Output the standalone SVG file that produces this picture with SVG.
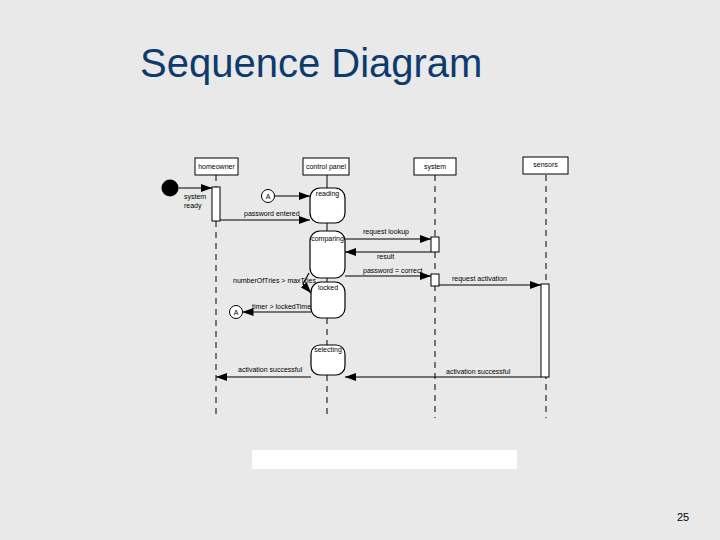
<svg xmlns="http://www.w3.org/2000/svg" width="720" height="540" viewBox="0 0 720 540">
<style>
.t{font-family:"Liberation Sans",Arial,sans-serif;font-size:7px;fill:#000}
.box{fill:#fff;stroke:#000;stroke-width:1}
.st{fill:#fff;stroke:#000;stroke-width:1.2}
.ll{stroke:#000;stroke-width:1;stroke-dasharray:6 5;fill:none}
.sl{stroke:#000;stroke-width:1;fill:none}
.msg{stroke:#000;stroke-width:1.2;fill:none;marker-end:url(#ah)}
</style>
<defs>
<marker id="ah" markerUnits="userSpaceOnUse" markerWidth="11" markerHeight="8" refX="11" refY="4" orient="auto">
<path d="M0,0 L11,4 L0,8 z" fill="#000"/>
</marker>
</defs>
<rect width="720" height="540" fill="#e9e9e9"/>
<text x="140" y="77" font-family="'Liberation Sans',Arial,sans-serif" font-size="40" fill="#0d3b6e">Sequence Diagram</text>
<rect x="252" y="450" width="265" height="19" fill="#fff"/>
<text x="677" y="521" font-family="'Liberation Sans',Arial,sans-serif" font-size="11" fill="#000">25</text>

<g id="lifelines">
<line class="ll" x1="216" y1="175" x2="216" y2="187"/>
<line class="ll" x1="216" y1="221" x2="216" y2="418"/>
<line class="sl" x1="327" y1="175" x2="327" y2="188"/>
<line class="sl" x1="327" y1="223" x2="327" y2="231"/>
<line class="sl" x1="327" y1="278" x2="327" y2="282"/>
<line class="ll" x1="327" y1="318" x2="327" y2="345"/>
<line class="ll" x1="327" y1="375" x2="327" y2="418"/>
<line class="ll" x1="435" y1="175" x2="435" y2="418"/>
<line class="ll" x1="546" y1="175" x2="546" y2="418"/>
</g>

<g id="homeowner">
<rect class="box" x="195" y="158" width="43" height="17"/>
<text class="t" x="216.5" y="169" text-anchor="middle">homeowner</text>
<rect class="box" x="212" y="187" width="8" height="34"/>
</g>
<g id="control-panel">
<rect class="box" x="303" y="158" width="46" height="17"/>
<text class="t" x="326" y="169" text-anchor="middle">control panel</text>
</g>
<g id="system">
<rect class="box" x="414" y="158" width="42" height="17"/>
<text class="t" x="435" y="169" text-anchor="middle">system</text>
<rect class="box" x="431" y="237" width="8" height="15"/>
<rect class="box" x="431" y="274" width="8" height="12"/>
</g>
<g id="sensors">
<rect class="box" x="523" y="157" width="45" height="17"/>
<text class="t" x="545.5" y="167" text-anchor="middle">sensors</text>
<rect class="box" x="541" y="284" width="8" height="93"/>
</g>

<g id="start">
<circle cx="170" cy="188" r="8.5" fill="#000"/>
<text class="t" x="184" y="199">system</text>
<text class="t" x="184" y="208">ready</text>
</g>
<g id="connector-A-top">
<circle class="box" cx="268" cy="196" r="6.5"/>
<text class="t" x="268" y="198.5" text-anchor="middle">A</text>
</g>
<g id="connector-A-bottom">
<circle class="box" cx="236" cy="312" r="6.5"/>
<text class="t" x="236" y="314.5" text-anchor="middle">A</text>
</g>

<g id="state-reading">
<rect class="st" x="310" y="188" width="35" height="35" rx="10"/>
<text class="t" x="327.5" y="196" text-anchor="middle">reading</text>
</g>
<g id="state-comparing">
<rect class="st" x="310" y="231" width="35" height="47" rx="10"/>
<text class="t" x="327.5" y="241" text-anchor="middle">comparing</text>
</g>
<g id="state-locked">
<rect class="st" x="311" y="282" width="34" height="36" rx="10"/>
<text class="t" x="328" y="290" text-anchor="middle">locked</text>
</g>
<g id="state-selecting">
<rect class="st" x="311" y="345" width="34" height="30" rx="9"/>
<text class="t" x="328" y="352" text-anchor="middle">selecting</text>
</g>

<g id="connectors">
<line class="msg" x1="178.5" y1="188" x2="212" y2="188"/>
<line class="msg" x1="274.5" y1="196" x2="310" y2="196"/>
<line class="msg" x1="220" y1="220" x2="310" y2="220"/>
<text class="t" x="244" y="216">password entered</text>
<line class="msg" x1="345" y1="239" x2="431" y2="239"/>
<text class="t" x="363" y="234">request lookup</text>
<line class="msg" x1="431" y1="252" x2="345" y2="252"/>
<text class="t" x="377" y="259">result</text>
<line class="msg" x1="345" y1="276" x2="431" y2="276"/>
<text class="t" x="363" y="273">password = correct</text>
<line class="msg" x1="439" y1="285" x2="541" y2="285"/>
<text class="t" x="452" y="281">request activation</text>
<path class="msg" d="M309,273 L303,284 L311,293"/>
<text class="t" x="233" y="283">numberOfTries &gt; maxTries</text>
<line class="msg" x1="311" y1="312" x2="242.5" y2="312"/>
<text class="t" x="252" y="309">timer &gt; lockedTime</text>
<line class="msg" x1="311" y1="377" x2="216" y2="377"/>
<text class="t" x="238" y="372">activation successful</text>
<line class="msg" x1="541" y1="377" x2="345" y2="377"/>
<text class="t" x="446" y="374">activation successful</text>
</g>
</svg>
